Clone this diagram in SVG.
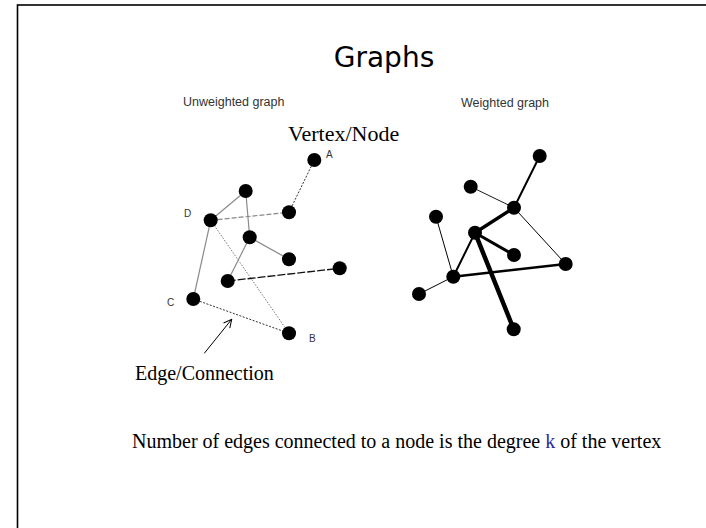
<svg xmlns="http://www.w3.org/2000/svg" width="706" height="528" viewBox="0 0 706 528">
<style>
.node{fill:#000}
.lbl{font-family:"Liberation Sans",Arial,sans-serif;font-size:10px;fill:#333}
.cap{font-family:"Liberation Sans",Arial,sans-serif;font-size:12.5px;fill:#333}
.times{font-family:"Liberation Serif","Times New Roman",serif;fill:#000}
.g{stroke:#8a8a8a;stroke-width:1.2;fill:none}
.dot{stroke:#333;stroke-width:1;stroke-dasharray:2 1.5;fill:none}
.dotg{stroke:#777;stroke-width:1;stroke-dasharray:1.5 1.5;fill:none}
.dash{stroke:#888;stroke-width:1.2;stroke-dasharray:5 2;fill:none}
.dashk{stroke:#111;stroke-width:1.3;stroke-dasharray:8 2;fill:none}
.w{stroke:#000;fill:none;stroke-linecap:round}
</style>
<defs>
<marker id="arr" markerWidth="10" markerHeight="10" refX="9" refY="5" orient="auto" markerUnits="userSpaceOnUse">
<path d="M1,1 L9,5 L1,9" fill="none" stroke="#000" stroke-width="1"/>
</marker>
</defs>
<rect x="17.5" y="5" width="720" height="560" fill="#fff" stroke="#000" stroke-width="1.6"/>
<text x="384" y="67" text-anchor="middle" style="font-family:'DejaVu Sans',sans-serif;font-size:28px;fill:#000">Graphs</text>
<text x="183" y="106" class="cap">Unweighted graph</text>
<text x="461" y="107" class="cap">Weighted graph</text>
<text x="288" y="141" class="times" style="font-size:22px">Vertex/Node</text>
<text x="135" y="380" class="times" style="font-size:20px">Edge/Connection</text>
<text x="132" y="448" class="times" style="font-size:20px">Number of edges connected to a node is the degree <tspan fill="#2b2b9a">k</tspan> of the vertex</text>
<g id="connectors">
<line class="dot" x1="314.3" y1="160" x2="289" y2="212.3"/>
<line class="g" x1="245.7" y1="191" x2="210.7" y2="220.3"/>
<line class="g" x1="245.7" y1="191" x2="249.7" y2="237.3"/>
<line class="dash" x1="210.7" y1="220.3" x2="289" y2="212.3"/>
<line class="g" x1="210.7" y1="220.3" x2="193.3" y2="299"/>
<line class="dotg" x1="210.7" y1="220.3" x2="289" y2="333.3"/>
<line class="g" x1="249.7" y1="237.3" x2="289" y2="259.3"/>
<line class="g" x1="249.7" y1="237.3" x2="227.7" y2="281"/>
<line class="dashk" x1="227.7" y1="281" x2="339.7" y2="268.3"/>
<line class="dot" x1="193.3" y1="299" x2="289" y2="333.3"/>
<line x1="204.3" y1="353.3" x2="231.7" y2="319.3" stroke="#000" stroke-width="1" marker-end="url(#arr)"/>
<line class="w" x1="539.7" y1="156" x2="514" y2="207.7" stroke-width="2"/>
<line class="w" x1="470.7" y1="186.7" x2="514" y2="207.7" stroke-width="0.9"/>
<line class="w" x1="514" y1="207.7" x2="475" y2="232.7" stroke-width="3.5"/>
<line class="w" x1="514" y1="207.7" x2="565.7" y2="264" stroke="#777" stroke-width="1"/>
<line class="w" x1="436" y1="216.7" x2="453.3" y2="276.7" stroke-width="1"/>
<line class="w" x1="475" y1="232.7" x2="514" y2="255" stroke-width="3"/>
<line class="w" x1="475" y1="232.7" x2="453.3" y2="276.7" stroke="#222" stroke-width="2"/>
<line class="w" x1="475" y1="232.7" x2="513.7" y2="329.3" stroke-width="4.5"/>
<line class="w" x1="453.3" y1="276.7" x2="565.7" y2="264" stroke-width="2.6"/>
<line class="w" x1="453.3" y1="276.7" x2="419" y2="294" stroke="#888" stroke-width="1"/>
</g>
<g id="nA"><circle class="node" cx="314.3" cy="160" r="7"/><text class="lbl" x="326" y="158">A</text></g>
<g id="n1"><circle class="node" cx="245.7" cy="191" r="7"/></g>
<g id="n2"><circle class="node" cx="289" cy="212.3" r="7"/></g>
<g id="nD"><circle class="node" cx="210.7" cy="220.3" r="7"/><text class="lbl" x="184" y="217">D</text></g>
<g id="n3"><circle class="node" cx="249.7" cy="237.3" r="7"/></g>
<g id="n4"><circle class="node" cx="289" cy="259.3" r="7"/></g>
<g id="n5"><circle class="node" cx="339.7" cy="268.3" r="7"/></g>
<g id="n6"><circle class="node" cx="227.7" cy="281" r="7"/></g>
<g id="nC"><circle class="node" cx="193.3" cy="299" r="7"/><text class="lbl" x="167" y="306">C</text></g>
<g id="nB"><circle class="node" cx="289" cy="333.3" r="7"/><text class="lbl" x="309" y="342">B</text></g>
<g id="w1"><circle class="node" cx="539.7" cy="156" r="7"/></g>
<g id="w2"><circle class="node" cx="470.7" cy="186.7" r="7"/></g>
<g id="w3"><circle class="node" cx="514" cy="207.7" r="7"/></g>
<g id="w4"><circle class="node" cx="436" cy="216.7" r="7"/></g>
<g id="w5"><circle class="node" cx="475" cy="232.7" r="7"/></g>
<g id="w6"><circle class="node" cx="514" cy="255" r="7"/></g>
<g id="w7"><circle class="node" cx="565.7" cy="264" r="7"/></g>
<g id="w8"><circle class="node" cx="453.3" cy="276.7" r="7"/></g>
<g id="w9"><circle class="node" cx="419" cy="294" r="7"/></g>
<g id="w10"><circle class="node" cx="513.7" cy="329.3" r="7"/></g>
</svg>
